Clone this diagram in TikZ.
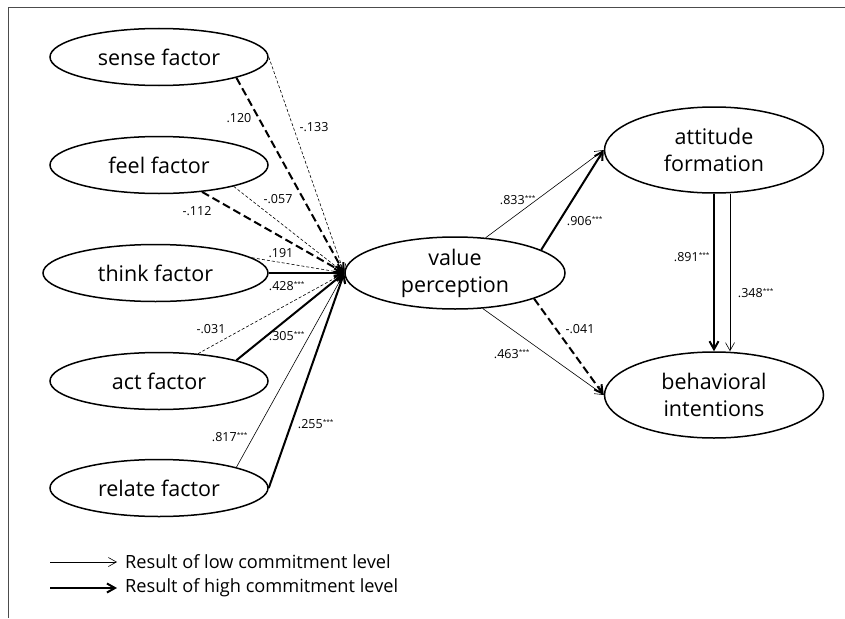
\documentclass[tikz,border=0pt]{standalone}
\usepackage{fontspec}
\setmainfont{Open Sans}
\usetikzlibrary{shapes.geometric}
\usetikzlibrary{arrows.meta,positioning}
\tikzset{>={Straight Barb[length=8pt,width=9pt]}}
\newcommand{\stars}{\textsuperscript{\fontsize{6.5}{6.5}\selectfont ***}}

\begin{document}
\begin{tikzpicture}[x=1pt,y=-1pt,
  factor/.style={ellipse, draw, line width=1.5pt, minimum width=218pt, minimum height=57pt,
    inner sep=0pt, font=\fontsize{21.5}{27}\selectfont},
  construct/.style={factor, minimum width=219pt, minimum height=86pt, align=center},
  low/.style={->, line width=0.6pt},
  high/.style={->, line width=2pt},
  lowdash/.style={low, dash pattern=on 3pt off 2pt},
  highdash/.style={high, dash pattern=on 8pt off 4pt},
  coef/.style={font=\fontsize{12.5}{13}\selectfont, inner sep=0pt}]

  % --- Frame ---
  \useasboundingbox (0,0) rectangle (845,618);
  \draw[gray!60!black, line width=0.8pt] (8,618) -- (8,7) -- (845,7);

  % --- 1. Experience factors ---
  \node[factor] (sense)  at (159,57)  {sense factor};
  \node[factor] (feel)   at (159,165) {feel factor};
  \node[factor, minimum width=225pt] (think) at (155.5,273) {think factor};
  \node[factor] (act)    at (159,381) {act factor};
  \node[factor] (relate) at (159,488) {relate factor};

  % --- 2. Outcome constructs ---
  \node[construct, minimum width=220pt, minimum height=72pt] (value) at (455,273) {value\\perception};
  \node[construct] (attitude) at (714,150) {attitude\\formation};
  \node[construct] (behav)    at (714,395) {behavioral\\intentions};

  % --- 3. Paths into value perception ---
  \draw[highdash] (sense.-15) -- (value.west);
  \draw[lowdash]  (sense.east) -- (value.west);
  \draw[lowdash]  (feel.-16) -- (value.west);
  \draw[highdash] (feel.-32) -- (value.west);
  \draw[lowdash]  (think.9) -- (value.west);
  \draw[high]     (think.east) -- (value.west);
  \draw[lowdash]  (act.35) -- (value.west);
  \draw[high]     (act.15) -- (value.west);
  \draw[low]      (relate.15) -- (value.west);
  \draw[high]     (relate.east) -- (value.west);

  % --- 4. Paths out of value perception ---
  \draw[low]      (value.49) -- (attitude.west);
  \draw[high]     (value.15) -- (attitude.west);
  \draw[low]      (value.-52) -- (behav.west);
  \draw[highdash] (value.-18) -- (behav.west);
  \draw[high]     (attitude.south) -- (behav.north);
  \draw[low]      ([xshift=16pt]attitude.south) -- ([xshift=16pt]behav.north);

  % --- 5. Coefficients ---
  \node[coef] (c120) at (239,118) {.120};
  \node[coef] (c133) at (314,127) {-.133};
  \node[coef] (c057) at (278,199) {-.057};
  \node[coef] (c112) at (197,211) {-.112};
  \node[coef] (c191) at (281,253) {.191};
  \node[coef] (c428) at (287,286) {.428\stars};
  \node[coef] (c031) at (211,329) {-.031};
  \node[coef] (c305) at (287,336) {.305\stars};
  \node[coef] (c817) at (230,437) {.817\stars};
  \node[coef] (c255) at (316,424) {.255\stars};
  \node[coef] (c833) at (518,200) {.833\stars};
  \node[coef] (c906) at (585,221) {.906\stars};
  \node[coef] (c891) at (692,257) {.891\stars};
  \node[coef] (c348) at (756,293) {.348\stars};
  \node[coef] (c041) at (580,329) {-.041};
  \node[coef] (c463) at (512,354) {.463\stars};

  % --- 6. Legend ---
  \coordinate (lowA)  at (50,562);
  \coordinate (lowB)  at (117,562);
  \coordinate (highA) at (50,588);
  \coordinate (highB) at (117,588);
  \draw[low]  (lowA) -- (lowB);
  \draw[high] (highA) -- (highB);
  \node[anchor=west, inner sep=0pt, font=\fontsize{18.2}{22}\selectfont] (lowtxt)  at (125,562) {Result of low commitment level};
  \node[anchor=west, inner sep=0pt, font=\fontsize{18.2}{22}\selectfont] (hightxt) at (125,588) {Result of high commitment level};
\end{tikzpicture}
\end{document}
